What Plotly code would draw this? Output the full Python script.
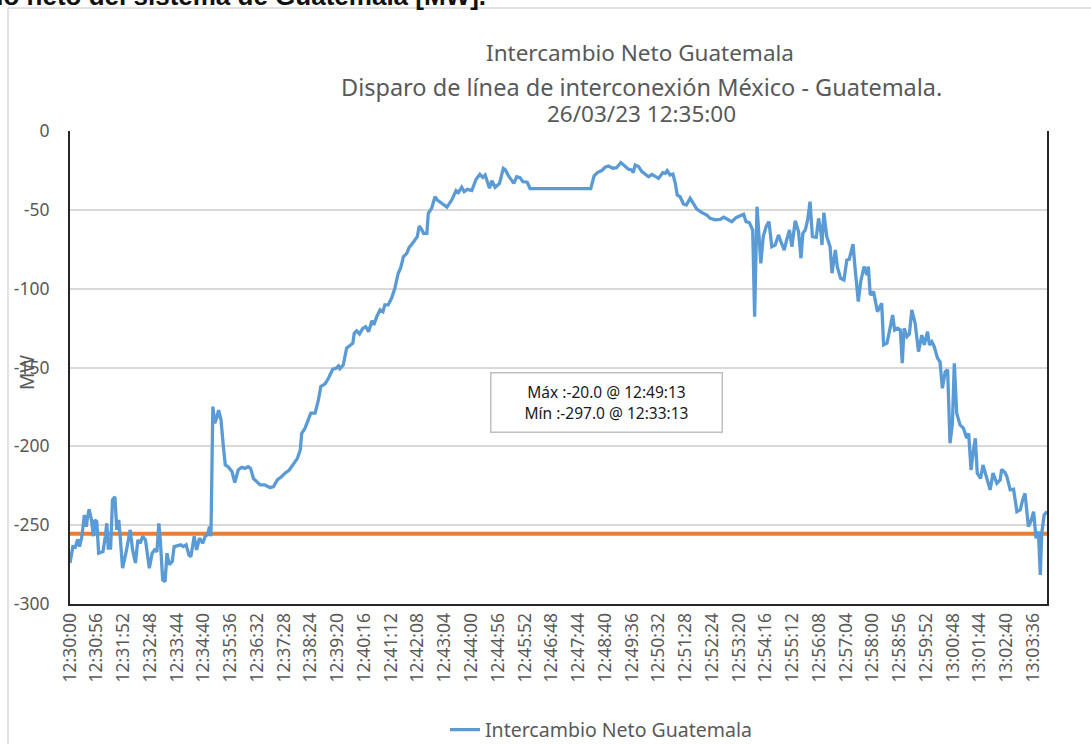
import plotly.graph_objects as go

# ---- data ----
# seconds elapsed after 12:30:00 and net interchange in MW
elapsed_s = [
    0, 6, 11, 16, 20, 25, 30, 34, 37, 40, 45, 49, 52, 56, 60, 69, 74, 77, 80, 85,
    89, 94, 98, 102, 105, 110, 117, 126, 131, 137, 142, 147, 152, 158, 166, 172, 177, 182, 186, 189,
    194, 199, 203, 208, 214, 218, 232, 237, 243, 249, 253, 260, 265, 271, 278, 283, 288, 292, 295, 299,
    303, 307, 311, 316, 321, 325, 331, 339, 345, 352, 359, 366, 373, 378, 384, 391, 398, 408, 419, 426,
    434, 443, 450, 459, 468, 476, 482, 485, 492, 499, 504, 513, 520, 525, 534, 541, 550, 557, 562, 565,
    572, 579, 586, 592, 595, 600, 606, 613, 619, 625, 632, 636, 642, 649, 655, 659, 666, 673, 680, 687,
    692, 698, 705, 710, 717, 722, 727, 731, 736, 740, 747, 750, 757, 764, 769, 778, 789, 799, 808, 813,
    820, 825, 832, 841, 850, 858, 864, 869, 878, 883, 890, 899, 907, 911, 918, 929, 935, 942, 948, 957,
    963, 1090, 1097, 1104, 1113, 1120, 1127, 1136, 1144, 1153, 1162, 1169, 1176, 1179, 1183, 1190, 1197, 1204, 1211, 1218,
    1225, 1232, 1241, 1246, 1250, 1256, 1262, 1267, 1271, 1277, 1284, 1290, 1298, 1305, 1312, 1322, 1333, 1340, 1350, 1361,
    1368, 1376, 1385, 1394, 1404, 1410, 1415, 1422, 1429, 1433, 1438, 1446, 1451, 1457, 1463, 1469, 1476, 1483, 1488, 1495,
    1500, 1506, 1511, 1518, 1525, 1530, 1534, 1539, 1544, 1549, 1554, 1562, 1567, 1572, 1574, 1578, 1584, 1591, 1595, 1602,
    1606, 1613, 1620, 1626, 1631, 1639, 1643, 1650, 1655, 1662, 1668, 1671, 1675, 1682, 1690, 1699, 1703, 1710, 1715, 1722,
    1726, 1732, 1738, 1742, 1746, 1752, 1757, 1762, 1769, 1776, 1783, 1788, 1795, 1799, 1804, 1809, 1816, 1821, 1826, 1832,
    1837, 1842, 1847, 1851, 1856, 1863, 1870, 1877, 1881, 1886, 1891, 1895, 1899, 1906, 1911, 1918, 1926, 1932, 1940, 1947,
    1950, 1957, 1961, 1968, 1975, 1982, 1989, 1994, 1999, 2006, 2011, 2017, 2022, 2027, 2031, 2034, 2039, 2045,
]
intercambio_mw = [
    -274, -263.6, -264, -259, -263.6, -257, -243.5, -251, -244.6, -240, -246.7, -257, -246.7, -247.7, -267.8, -266.8, -257, -248.8, -264.6, -264.6,
    -234, -232, -253, -246.7, -257, -277.3, -267.8, -253, -265.7, -274, -259.4, -261.5, -257, -259.4, -277.3, -267.8, -265.7, -266.8, -248.8, -259.4,
    -284.7, -285.8, -267.8, -275, -273, -263.6, -262.5, -263.6, -262.5, -268.9, -270, -257, -265.7, -258.3, -261.5, -257, -256, -251, -257, -174.8,
    -185.4, -182, -177, -183, -200, -211.8, -212.9, -216, -223, -215, -213.3, -214, -212.9, -214, -220.4, -222.4, -224.5, -224.5, -226.2, -225.5,
    -221.3, -219.2, -217, -215, -210.7, -207.6, -202.3, -191.7, -188.5, -183.3, -179, -179, -170.6, -162, -160.4, -156.8, -151.1, -150.5, -149, -150.7,
    -148.4, -137.8, -136.3, -134.6, -128.3, -126.8, -128.7, -125.1, -124.1, -127.3, -120.3, -123, -117.8, -113.5, -114.6, -110.3, -110.3, -106.1, -99.7, -90.2,
    -87, -79.7, -77.6, -73.8, -71.2, -68.7, -67, -60.2, -62.3, -64.9, -64.9, -52.2, -49, -41.7, -43.8, -45.8, -48.3, -43.8, -37.8, -39,
    -35.7, -38.5, -37, -37.8, -30.6, -27.5, -29.4, -27.9, -36.3, -31.5, -35.7, -33.2, -23.7, -24.5, -28.5, -33.2, -29, -29.6, -32.1, -32.5,
    -36.5, -36.5, -28.5, -26.4, -25.1, -23, -22.2, -23.6, -23.3, -20, -22.6, -24.3, -24.7, -26.4, -21.6, -22.6, -25.8, -27.3, -29, -27.5,
    -29, -30, -26.4, -26.8, -25.1, -27.9, -27.3, -33.2, -40.6, -41.7, -46.3, -46.9, -42.7, -45.8, -49.5, -51.6, -53.3, -55.4, -56.4, -56,
    -54.7, -56, -57.5, -55, -53.9, -52.8, -57.5, -58.1, -62.8, -117.8, -48, -83.9, -67, -60.7, -57.5, -73.4, -72.3, -65.9, -70.2, -75.5,
    -69.1, -62.8, -73.4, -56.9, -63.9, -80.7, -64.9, -62.8, -56.4, -44.8, -67, -67.4, -55.4, -64.9, -72.3, -51.8, -67, -73.4, -90.2, -75.5,
    -86, -93.4, -94.5, -81.8, -81.4, -71.7, -86, -108.2, -95.6, -86, -91.3, -86, -104, -101.9, -114.6, -109.3, -135.7, -134.6, -127.3, -116.7,
    -126.2, -125.1, -126.2, -147.3, -125.1, -130.4, -128.7, -113.5, -121.9, -139.9, -129.4, -135.7, -127.3, -135.7, -133.6, -136.8, -144.2, -146.3, -163.2, -152.6,
    -151.5, -198, -185.4, -147.3, -179, -186.4, -188.5, -194.9, -191.7, -215, -202.3, -194.9, -217, -220.4, -211.8, -219.2, -227.6, -217, -223.4, -221.3,
    -214.6, -216.6, -219.2, -227.6, -227.2, -241.4, -240.3, -234, -229.8, -250.9, -247.7, -241.4, -258.3, -254, -281.6, -255.1, -243.5, -241.4,
]
reference_s = [0, 2045]
reference_mw = [-255.5, -255.5]

tick_labels = [
    "12:30:00", "12:30:56", "12:31:52", "12:32:48", "12:33:44", "12:34:40", "12:35:36",
    "12:36:32", "12:37:28", "12:38:24", "12:39:20", "12:40:16", "12:41:12", "12:42:08",
    "12:43:04", "12:44:00", "12:44:56", "12:45:52", "12:46:48", "12:47:44", "12:48:40",
    "12:49:36", "12:50:32", "12:51:28", "12:52:24", "12:53:20", "12:54:16", "12:55:12",
    "12:56:08", "12:57:04", "12:58:00", "12:58:56", "12:59:52", "13:00:48", "13:01:44",
    "13:02:40", "13:03:36",
]
y_ticks = [0, -50, -100, -150, -200, -250, -300]
y_tick_labels = ["0", "-50", "-100", "-150", "-200", "-250", "-300"]

assert len(elapsed_s) == len(intercambio_mw)


def to_seconds(label):
    h, m, s = (int(p) for p in label.split(":"))
    return (h * 3600 + m * 60 + s) - (12 * 3600 + 30 * 60)


tick_vals = [to_seconds(t) for t in tick_labels]

# ---- layout geometry (pixels) ----
W, H = 1091, 744
L, R, T, B = 70, 1047, 131, 604


def px(x):
    return (x - L) / (R - L)


def py(y):
    return (B - y) / (B - T)


FONT = "Noto Sans"
GREY = "#595959"

fig = go.Figure()
fig.add_trace(go.Scatter(
    x=reference_s, y=reference_mw, mode="lines",
    line=dict(color="#ED7D31", width=4), showlegend=False, hoverinfo="skip",
))
fig.add_trace(go.Scatter(
    x=elapsed_s, y=intercambio_mw, mode="lines", name="Intercambio Neto Guatemala",
    line=dict(color="#5B9BD5", width=3.3),
))

fig.update_layout(
    width=W, height=H,
    margin=dict(l=L, r=W - R, t=T, b=H - B, pad=0, autoexpand=False),
    paper_bgcolor="white", plot_bgcolor="white",
    font=dict(family=FONT, color=GREY),
    showlegend=True,
    legend=dict(orientation="h", x=px(601), xanchor="center", y=py(730), yanchor="middle",
                font=dict(size=19.5, color=GREY, family=FONT), bgcolor="rgba(0,0,0,0)",
                itemwidth=30),
    xaxis=dict(range=[0, 2045], tickmode="array", tickvals=tick_vals, ticktext=tick_labels,
               tickangle=-90, tickfont=dict(size=17.5, color=GREY, family=FONT),
               showgrid=False, zeroline=False, showline=True, linecolor="#262626", linewidth=2,
               ticks="", ticklen=0, automargin=False),
    yaxis=dict(range=[-300, 0], tickmode="array", tickvals=y_ticks, ticktext=y_tick_labels,
               tickfont=dict(size=17.5, color=GREY, family=FONT),
               showgrid=True, gridcolor="#D9D9D9", gridwidth=1.5, zeroline=False,
               showline=True, linecolor="#262626", linewidth=2, mirror=True,
               ticks="", ticklen=0, ticklabelstandoff=15, automargin=False),
)

annotations = [
    dict(text="Intercambio Neto Guatemala", x=px(640), y=py(52), xref="paper", yref="paper",
         showarrow=False, xanchor="center", yanchor="middle", font=dict(size=22.5, color=GREY)),
    dict(text="Disparo de línea de interconexión México - Guatemala.", x=px(641), y=py(87),
         xref="paper", yref="paper", showarrow=False, xanchor="center", yanchor="middle",
         font=dict(size=23.5, color=GREY)),
    dict(text="26/03/23 12:35:00", x=px(641), y=py(113), xref="paper", yref="paper",
         showarrow=False, xanchor="center", yanchor="middle", font=dict(size=22.5, color=GREY)),
    dict(text="MW", x=px(27), y=py(373), xref="paper", yref="paper", showarrow=False,
         textangle=-90, xanchor="center", yanchor="middle", font=dict(size=19, color=GREY)),
    dict(text="Máx :-20.0 @ 12:49:13<br>Mín :-297.0 @ 12:33:13", x=px(606), y=py(402),
         xref="paper", yref="paper", showarrow=False, xanchor="center", yanchor="middle",
         align="center", width=226, height=54, borderpad=2, bordercolor="#BFBFBF", borderwidth=1.5,
         bgcolor="white", font=dict(size=15.5, color="#1a1a1a")),
    dict(text="<b>Intercambio neto del sistema de Guatemala [MW].</b>", x=px(488), y=py(-4),
         xref="paper", yref="paper", showarrow=False, xanchor="right", yanchor="middle",
         font=dict(size=26, color="#111111", family="Liberation Sans")),
]
fig.update_layout(annotations=annotations)

# chart-area frame (left and top edges visible)
fig.add_shape(type="line", xref="paper", yref="paper", x0=px(8), x1=px(8), y0=py(8), y1=py(800),
              line=dict(color="#D9D9D9", width=1.5), layer="below")
fig.add_shape(type="line", xref="paper", yref="paper", x0=px(8), x1=px(1200), y0=py(8), y1=py(8),
              line=dict(color="#D9D9D9", width=1.5), layer="below")

fig.write_html(
    "out.html",
    config={"displayModeBar": False},
    post_script="document.body.style.margin='0px';document.body.style.overflow='hidden';",
)
